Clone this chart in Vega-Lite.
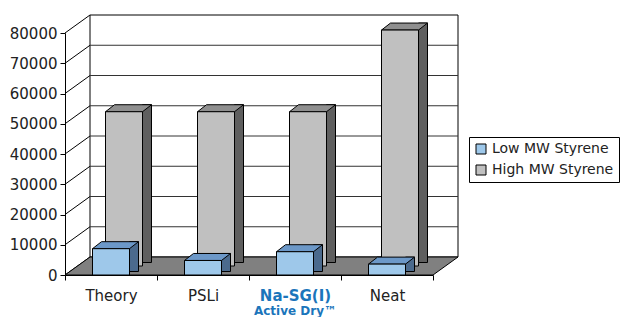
{
  "$schema": "https://vega.github.io/schema/vega-lite/v6.json",
  "width": 368,
  "height": 242,
  "autosize": "none",
  "padding": {"left": 65, "top": 33, "right": 190, "bottom": 42},
  "background": "white",
  "config": {
    "view": {"stroke": null},
    "font": "DejaVu Sans",
    "axisY": {"domainColor": "black", "tickColor": "black", "tickSize": 5, "labelFontSize": 15, "labelColor": "#222", "labelPadding": 3, "grid": false, "title": null, "format": "d", "values": [0, 10000, 20000, 30000, 40000, 50000, 60000, 70000, 80000]},
    "axisX": {"domainColor": "black", "tickColor": "black", "tickSize": 5, "tickBand": "extent", "labelFontSize": 15, "labelColor": "#222", "labelPadding": 8, "labelAngle": 0, "grid": false, "title": null}
  },
  "datasets": {
    "bars": [
      {"category": "Theory", "series": "Low MW Styrene", "value": 8700},
      {"category": "PSLi", "series": "Low MW Styrene", "value": 4800},
      {"category": "Na-SG(I)", "series": "Low MW Styrene", "value": 7700},
      {"category": "Neat", "series": "Low MW Styrene", "value": 3600},
      {"category": "Theory", "series": "High MW Styrene", "value": 51000},
      {"category": "PSLi", "series": "High MW Styrene", "value": 51000},
      {"category": "Na-SG(I)", "series": "High MW Styrene", "value": 51000},
      {"category": "Neat", "series": "High MW Styrene", "value": 78000}
    ],
    "grid": [{"v": 0}, {"v": 10000}, {"v": 20000}, {"v": 30000}, {"v": 40000}, {"v": 50000}, {"v": 60000}, {"v": 70000}, {"v": 80000}],
    "notes": [{"category": "Na-SG(I)", "note": "Active Dry™"}],
    "one": [{"k": 1}]
  },
  "layer": [
    {
      "data": {"name": "one"},
      "mark": {"type": "rect", "fill": "white", "stroke": "black", "strokeWidth": 1, "xOffset": 25, "x2Offset": 25, "yOffset": -18, "y2Offset": -18},
      "encoding": {
        "x": {"value": 0},
        "x2": {"value": "width"},
        "y": {"datum": 0, "type": "quantitative", "scale": {"domain": [0, 80000], "nice": false}},
        "y2": {"datum": 80000}
      }
    },
    {
      "data": {"name": "grid"},
      "transform": [{"filter": "datum.v > 0 && datum.v < 80000"}],
      "mark": {"type": "rule", "color": "#333", "strokeWidth": 1, "xOffset": 25, "x2Offset": 25, "yOffset": -18},
      "encoding": {
        "x": {"value": 0},
        "x2": {"value": "width"},
        "y": {"field": "v", "type": "quantitative"}
      }
    },
    {
      "data": {"name": "grid"},
      "mark": {"type": "rule", "color": "black", "strokeWidth": 1, "x2Offset": 25, "y2Offset": -18},
      "encoding": {
        "x": {"value": 0},
        "x2": {"value": 0},
        "y": {"field": "v", "type": "quantitative"},
        "y2": {"field": "v"}
      }
    },
    {
      "data": {"name": "one"},
      "mark": {"type": "point", "shape": "M-0.9825,0.045L0.8575,0.045L0.9825,-0.045L-0.8575,-0.045Z", "size": 160000, "filled": true, "fill": "#808080", "stroke": "black", "strokeWidth": 1, "opacity": 1, "xOffset": 12.5, "yOffset": -9},
      "encoding": {
        "y": {"datum": 0, "type": "quantitative"}
      }
    },
    {
      "data": {"name": "bars"},
      "transform": [{"filter": "datum.series == 'High MW Styrene'"}],
      "mark": {"type": "bar", "width": 9, "fill": "#5f5f5f", "stroke": "black", "strokeWidth": 1, "xOffset": 36, "yOffset": -16, "y2Offset": -12.5},
      "encoding": {
        "x": {"field": "category", "type": "nominal", "sort": ["Theory", "PSLi", "Na-SG(I)", "Neat"], "scale": {"paddingInner": 0, "paddingOuter": 0}},
        "y": {"field": "value", "type": "quantitative"},
        "y2": {"datum": 0}
      }
    },
    {
      "data": {"name": "bars"},
      "transform": [{"filter": "datum.series == 'High MW Styrene'"}],
      "mark": {"type": "point", "shape": "M-0.92,0.14L0.56,0.14L0.92,-0.14L-0.56,-0.14Z", "size": 2500, "filled": true, "fill": "#8f8f8f", "stroke": "black", "strokeWidth": 1, "opacity": 1, "xOffset": 17.5, "yOffset": -12.5},
      "encoding": {
        "x": {"field": "category", "type": "nominal", "sort": ["Theory", "PSLi", "Na-SG(I)", "Neat"]},
        "y": {"field": "value", "type": "quantitative"}
      }
    },
    {
      "data": {"name": "bars"},
      "transform": [{"filter": "datum.series == 'High MW Styrene'"}],
      "mark": {"type": "bar", "width": 37, "stroke": "black", "strokeWidth": 1, "opacity": 1, "xOffset": 13, "yOffset": -9, "y2Offset": -9},
      "encoding": {
        "x": {"field": "category", "type": "nominal", "sort": ["Theory", "PSLi", "Na-SG(I)", "Neat"]},
        "y": {"field": "value", "type": "quantitative"},
        "y2": {"datum": 0},
        "color": {"field": "series", "type": "nominal", "scale": {"domain": ["Low MW Styrene", "High MW Styrene"], "range": ["#9ec8ea", "#c0c0c0"]}}
      }
    },
    {
      "data": {"name": "bars"},
      "transform": [{"filter": "datum.series == 'Low MW Styrene'"}],
      "mark": {"type": "bar", "width": 9, "fill": "#4b6a8d", "stroke": "black", "strokeWidth": 1, "xOffset": 23, "yOffset": -7, "y2Offset": -3.5},
      "encoding": {
        "x": {"field": "category", "type": "nominal", "sort": ["Theory", "PSLi", "Na-SG(I)", "Neat"]},
        "y": {"field": "value", "type": "quantitative"},
        "y2": {"datum": 0}
      }
    },
    {
      "data": {"name": "bars"},
      "transform": [{"filter": "datum.series == 'Low MW Styrene'"}],
      "mark": {"type": "point", "shape": "M-0.92,0.14L0.56,0.14L0.92,-0.14L-0.56,-0.14Z", "size": 2500, "filled": true, "fill": "#6c98c8", "stroke": "black", "strokeWidth": 1, "opacity": 1, "xOffset": 4.5, "yOffset": -3.5},
      "encoding": {
        "x": {"field": "category", "type": "nominal", "sort": ["Theory", "PSLi", "Na-SG(I)", "Neat"]},
        "y": {"field": "value", "type": "quantitative"}
      }
    },
    {
      "data": {"name": "bars"},
      "transform": [{"filter": "datum.series == 'Low MW Styrene'"}],
      "mark": {"type": "bar", "width": 37, "stroke": "black", "strokeWidth": 1, "opacity": 1},
      "encoding": {
        "x": {"field": "category", "type": "nominal", "sort": ["Theory", "PSLi", "Na-SG(I)", "Neat"],
          "axis": {
            "labelColor": {"condition": {"test": "datum.value == 'Na-SG(I)'", "value": "#1b75bb"}, "value": "#222"},
            "labelFontWeight": {"condition": {"test": "datum.value == 'Na-SG(I)'", "value": "bold"}, "value": "normal"}
          }},
        "y": {"field": "value", "type": "quantitative"},
        "y2": {"datum": 0},
        "color": {"field": "series", "type": "nominal",
          "legend": {"orient": "none", "legendX": 404, "legendY": 104, "title": null, "strokeColor": "black", "fillColor": "white", "padding": 5, "symbolType": "square", "symbolSize": 100, "symbolStrokeColor": "black", "symbolStrokeWidth": 1, "labelFontSize": 14, "labelColor": "#222", "rowPadding": 7, "symbolOpacity": 1}}
      }
    },
    {
      "data": {"name": "notes"},
      "mark": {"type": "text", "fontSize": 12, "fontWeight": "bold", "color": "#1b75bb", "dy": 36, "baseline": "middle"},
      "encoding": {
        "x": {"field": "category", "type": "nominal", "sort": ["Theory", "PSLi", "Na-SG(I)", "Neat"]},
        "y": {"value": "height"},
        "text": {"field": "note"}
      }
    }
  ]
}
